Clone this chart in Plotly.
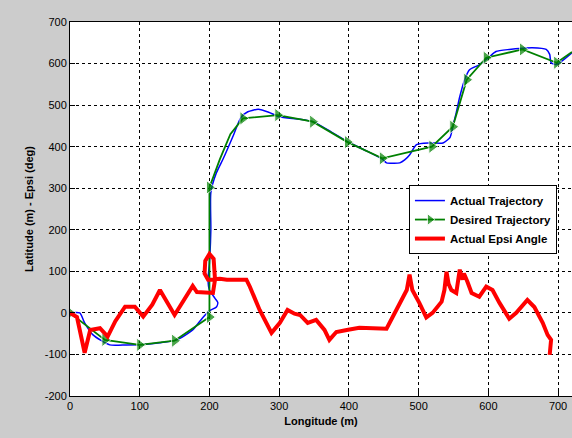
import plotly.graph_objects as go

# Desired trajectory (waypoints, marker flag: 1 = marker shown)
des_x = [0, 50, 100, 150, 200, 200, 215, 230, 248, 298, 348, 398, 448, 519, 549, 569, 597, 649, 698, 720]
des_y = [0, -65, -77, -67, -10, 302, 370, 430, 468, 476, 460, 411, 372, 400, 448, 561, 614, 634, 602, 628]
des_mk = [1, 1, 1, 1, 1, 1, 0, 0, 1, 1, 1, 1, 1, 1, 1, 1, 1, 1, 1, 0]

# Actual trajectory
act_x = [0, 14, 21, 33, 57, 81, 105, 129, 153, 176, 190, 200, 210, 212, 208, 200, 198, 200, 202, 202,
         210, 220, 235, 245, 255, 270, 285, 300, 330, 350, 375, 400, 425, 448, 454, 465, 473, 480, 487,
         497, 516, 535, 545, 548, 550, 554, 559, 566, 573, 587, 602, 611, 630, 650, 663, 683, 688, 690,
         698, 720]
act_y = [0, 0, -24, -53, -77, -77, -76, -72, -65, -41, -12, 5, 14, 25, 35, 55, 80, 120, 200, 290,
         337, 372, 430, 470, 484, 490, 483, 472, 466, 459, 435, 410, 390, 370, 361, 360, 361, 368, 380,
         405, 409, 409, 422, 440, 455, 482, 520, 561, 585, 597, 617, 629, 634, 637, 638, 634, 622, 602,
         598, 626]

# Actual Epsi angle
eps_x = [0, 10, 21, 29, 43, 54, 65, 79, 93, 105, 118, 129, 150, 165, 176, 182, 193, 205, 208, 206,
         200, 194, 193, 198, 215, 225, 240, 253, 258, 272, 289, 301, 312, 322, 330, 341, 353, 365, 372,
         382, 397, 415, 454, 468, 483, 487, 491, 501, 511, 520, 533, 537, 540, 543, 547, 554, 559, 563,
         565, 570, 576, 587, 597, 606, 616, 630, 640, 656, 666, 678, 685, 690, 688]
eps_y = [0, -10, -96, -41, -37, -57, -20, 15, 15, -9, 20, 55, -5, 35, 65, 50, 50, 48, 80, 130,
         142, 125, 95, 80, 82, 80, 80, 80, 63, 7, -48, -24, 7, -2, -5, -24, -17, -41, -65,
         -46, -41, -36, -38, 7, 55, 92, 55, 24, -11, 0, 27, 55, 99, 70, 55, 48, 104, 80,
         95, 75, 48, 39, 63, 55, 24, -14, 0, 31, 14, -24, -53, -65, -101]

x_ticks = [0, 100, 200, 300, 400, 500, 600, 700]
y_ticks = [-200, -100, 0, 100, 200, 300, 400, 500, 600, 700]

fig = go.Figure()
fig.add_trace(go.Scatter(x=act_x, y=act_y, mode="lines", name="<b>Actual Trajectory</b>",
                         line=dict(color="#0000ff", width=1.5, shape="spline", smoothing=0.6)))
fig.add_trace(go.Scatter(x=des_x, y=des_y, mode="lines+markers", name="<b>Desired Trajectory</b>",
                         line=dict(color="#008000", width=1.8),
                         marker=dict(symbol="triangle-right", color="#008000",
                                     size=[12 if m else 0 for m in des_mk])))
fig.add_trace(go.Scatter(x=eps_x, y=eps_y, mode="lines", name="<b>Actual Epsi Angle</b>",
                         line=dict(color="#ff0000", width=4)))

font_fam = "Liberation Sans, Arial, sans-serif"
axis_common = dict(showline=True, linecolor="black", linewidth=1, mirror=True,
                   ticks="inside", ticklen=5, tickcolor="black",
                   showgrid=True, gridcolor="black", gridwidth=1, griddash="dot",
                   zeroline=False, tickfont=dict(family=font_fam, size=11, color="black"))

fig.update_layout(
    width=572, height=438,
    margin=dict(l=70, r=0, t=22, b=42),
    paper_bgcolor="#cccccc", plot_bgcolor="white",
    font=dict(family=font_fam, color="black"),
    xaxis=dict(range=[0, 720], tickvals=x_ticks, ticktext=[str(v) for v in x_ticks],
               title=dict(text="<b>Longitude (m)</b>", font=dict(size=11), standoff=6),
               **axis_common),
    yaxis=dict(range=[-200, 700], tickvals=y_ticks, ticktext=[str(v) for v in y_ticks],
               title=dict(text="<b>Latitude (m) - Epsi (deg)</b>", font=dict(size=11), standoff=8),
               **axis_common),
    legend=dict(x=0.970, y=0.564, xanchor="right", yanchor="top",
                bgcolor="white", bordercolor="black", borderwidth=1,
                font=dict(family=font_fam, size=11.5, color="black"),
                tracegroupgap=0),
    showlegend=True,
)

fig.write_html("out.html")
